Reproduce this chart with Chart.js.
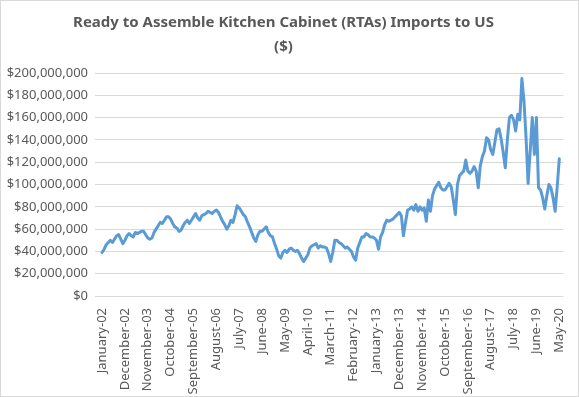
<!DOCTYPE html>
<html>
<head>
<meta charset="utf-8">
<script src="https://cdn.jsdelivr.net/npm/chart.js@4.4.1/dist/chart.umd.min.js"></script>
<style>
  html, body { margin: 0; padding: 0; background: #fff; }
  canvas { display: block; }
</style>
</head>
<body>
<canvas id="rta-chart" width="579" height="397"></canvas>
<script>
// monthly imports, millions of US dollars, January 2002 .. May 2020
const monthNames = ["January", "February", "March", "April", "May", "June",
  "July", "August", "September", "October", "November", "December"];
const firstYear = 2002;
const importsMillions = [
  39, 42, 46, 48, 50, 48, 51, 54, 55, 51, 47, 50,      // 2002
  54, 56, 54, 53, 57, 56, 57, 58, 58, 55, 52, 51,      // 2003
  52, 57, 60, 63, 66, 65, 68, 71, 71, 69, 65, 62,      // 2004
  61, 58, 59, 63, 66, 68, 65, 68, 71, 74, 70, 68,      // 2005
  72, 73, 74, 76, 75, 74, 76, 77, 75, 71, 67, 64,      // 2006
  60, 63, 68, 66, 73, 81, 79, 76, 73, 71, 66, 62,      // 2007
  57, 52, 49, 55, 58, 58, 60, 62, 57, 54, 53, 47,      // 2008
  42, 36, 34, 39, 41, 39, 42, 43, 41, 40, 41, 38,      // 2009
  34, 31, 34, 37, 43, 45, 46, 47, 43, 45, 44, 44,      // 2010
  43, 38, 31, 39, 50, 50, 48, 47, 45, 43, 44, 42,      // 2011
  40, 35, 32, 43, 48, 53, 53, 56, 55, 53, 53, 52,      // 2012
  50, 42, 53, 57, 64, 68, 67, 68, 69, 71, 73, 75,      // 2013
  72, 54, 66, 77, 78, 80, 77, 82, 76, 80, 77, 79,      // 2014
  67, 86, 76, 90, 96, 99, 102, 97, 95, 95, 98, 101,    // 2015
  98, 86, 73, 100, 108, 110, 112, 122, 112, 110, 112, 116, // 2016
  112, 97, 117, 125, 130, 142, 140, 131, 127, 138, 149, 150, // 2017
  141, 129, 115, 140, 160, 162, 158, 148, 163, 158, 195, 175, // 2018
  142, 101, 130, 160, 127, 160, 97, 95, 88, 78, 90, 100,   // 2019
  97, 88, 76, 98, 123                                      // 2020
];
const tickEvery = 11;
const yTicksMillions = [0, 20, 40, 60, 80, 100, 120, 140, 160, 180, 200];

const categories = importsMillions.map((_, i) =>
  monthNames[i % 12] + "-" + String((firstYear + Math.floor(i / 12)) % 100).padStart(2, "0"));
const tickIndexes = categories.map((_, i) => i).filter((i) => i % tickEvery === 0);

const textColor = "#595959";
const gridColor = "#d9d9d9";
const fontFamily = "'Noto Sans', 'Open Sans', sans-serif";

// white background and thin frame like the Excel chart box
const frame = {
  id: "frame",
  beforeDraw(chart) {
    const c = chart.ctx;
    c.save();
    c.fillStyle = "#fff";
    c.fillRect(0, 0, chart.width, chart.height);
    c.strokeStyle = gridColor;
    c.lineWidth = 1;
    c.strokeRect(0.5, 0.5, chart.width - 1, chart.height - 1);
    c.restore();
  },
};

const ctx = document.querySelector("#rta-chart").getContext("2d");

new Chart(ctx, {
  type: "line",
  data: {
    datasets: [
      {
        label: "RTA imports",
        data: importsMillions.map((v, i) => ({ x: i, y: v })),
        borderColor: "#5b9bd5",
        borderWidth: 3,
        borderJoinStyle: "round",
        borderCapStyle: "round",
        pointRadius: 0,
        tension: 0,
        fill: false,
      },
    ],
  },
  options: {
    responsive: false,
    animation: false,
    layout: { padding: { left: 0, right: 12, top: 0, bottom: 1 } },
    plugins: {
      legend: { display: false },
      tooltip: { enabled: false },
      title: {
        display: true,
        text: ["Ready to Assemble Kitchen Cabinet (RTAs) Imports to US", "($)"],
        color: textColor,
        font: { family: fontFamily, size: 15, weight: "bold", lineHeight: 1.6 },
        padding: { top: 11, bottom: 14 },
      },
    },
    scales: {
      x: {
        type: "linear",
        min: -3.4,
        max: 222,
        grid: { display: false },
        border: { display: false },
        afterBuildTicks: (axis) => {
          axis.ticks = tickIndexes.map((v) => ({ value: v }));
        },
        afterFit: (axis) => {
          axis.height = 100;
        },
        ticks: {
          autoSkip: false,
          minRotation: 90,
          maxRotation: 90,
          padding: 4,
          color: textColor,
          font: { family: fontFamily, size: 13 },
          callback: (value) => categories[value],
        },
      },
      y: {
        min: 0,
        max: 200,
        grid: { color: gridColor, drawTicks: false },
        border: { display: false },
        afterBuildTicks: (axis) => {
          axis.ticks = yTicksMillions.map((v) => ({ value: v }));
        },
        afterFit: (axis) => {
          axis.width = 95;
        },
        ticks: {
          padding: 7,
          color: textColor,
          font: { family: fontFamily, size: 13 },
          callback: (value) => "$" + (value * 1e6).toLocaleString("en-US"),
        },
      },
    },
  },
  plugins: [frame],
});
</script>
</body>
</html>
